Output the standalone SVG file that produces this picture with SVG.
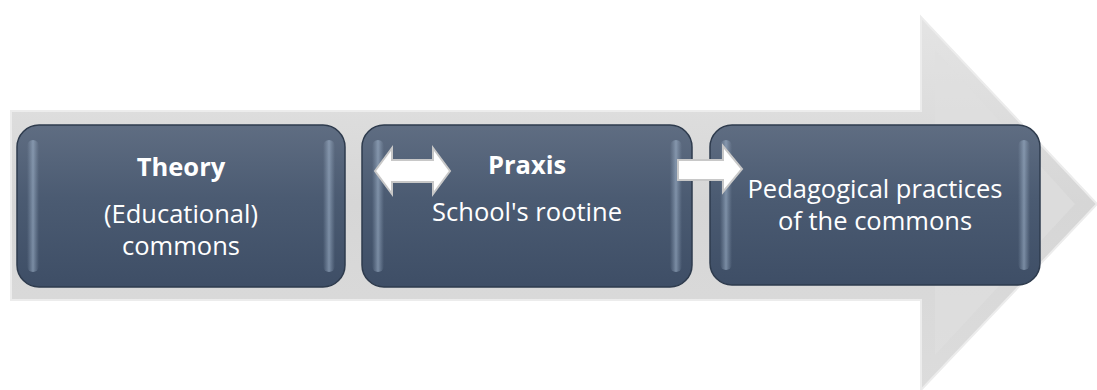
<svg xmlns="http://www.w3.org/2000/svg" width="1097" height="390" viewBox="0 0 1097 390">
<defs>
<linearGradient id="bg" x1="0" y1="0" x2="0" y2="1">
<stop offset="0" stop-color="#e4e4e4"/>
<stop offset="0.5" stop-color="#d6d6d6"/>
<stop offset="1" stop-color="#dcdcdc"/>
</linearGradient>
<linearGradient id="box" x1="0" y1="0" x2="0" y2="1">
<stop offset="0" stop-color="#5f6d82"/>
<stop offset="0.45" stop-color="#4b5b72"/>
<stop offset="1" stop-color="#3e4e66"/>
</linearGradient>
<linearGradient id="edgeL" x1="0" y1="0" x2="1" y2="0">
<stop offset="0" stop-color="#9fb2c8" stop-opacity="0"/>
<stop offset="0.5" stop-color="#a9bdd4" stop-opacity="0.55"/>
<stop offset="1" stop-color="#9fb2c8" stop-opacity="0"/>
</linearGradient>
<style>
.box{fill:url(#box);stroke:#2e3b4d;stroke-width:1.5}
.hl{fill:url(#edgeL)}
.t{font-family:"Open Sans","Liberation Sans",sans-serif;font-size:25.5px;fill:#ffffff;text-anchor:middle}
.b{font-weight:bold}
.conn{fill:#ffffff;stroke:#c8c8c8;stroke-width:2}
</style>
</defs>
<g id="bigArrow">
<path d="M11,111 L921,111 L921,17 L1097,204 L921,390 L921,300 L11,300 Z" fill="url(#bg)" stroke="#ececec" stroke-width="2"/>
<path d="M935,50 L1075,204 L935,355 Z" fill="#e0e0e0" opacity="0.6"/>
</g>
<g id="node-theory">
<rect class="box" x="17" y="125" width="328" height="162" rx="22"/>
<rect class="hl" x="27" y="140" width="12" height="132" rx="6"/>
<rect class="hl" x="323" y="140" width="12" height="132" rx="6"/>
<text class="t b" x="181" y="176">Theory</text>
<text class="t" x="181" y="223">(Educational)</text>
<text class="t" x="181" y="255">commons</text>
</g>
<g id="node-praxis">
<rect class="box" x="362" y="125" width="330" height="162" rx="22"/>
<rect class="hl" x="372" y="140" width="12" height="132" rx="6"/>
<rect class="hl" x="670" y="140" width="12" height="132" rx="6"/>
<text class="t b" x="527" y="174">Praxis</text>
<text class="t" x="527" y="221">School's rootine</text>
</g>
<g id="node-pedagogical">
<rect class="box" x="710" y="125" width="330" height="160" rx="22"/>
<rect class="hl" x="720" y="140" width="12" height="130" rx="6"/>
<rect class="hl" x="1018" y="140" width="12" height="130" rx="6"/>
<text class="t" x="875" y="198">Pedagogical practices</text>
<text class="t" x="875" y="230">of the commons</text>
</g>
<g id="connectors">
<path class="conn" d="M375,171 L392,148 L392,160 L433,160 L433,148 L450,171 L433,194 L433,182 L392,182 L392,194 Z"/>
<path class="conn" d="M678,160 L723,160 L723,146 L742,169 L723,192 L723,180 L678,180 Z"/>
</g>
</svg>
